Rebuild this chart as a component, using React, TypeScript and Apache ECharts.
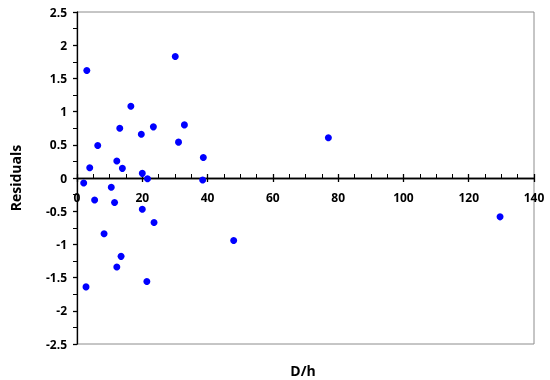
import React, { useEffect, useRef } from "react";
import * as echarts from "echarts";

const dh = [
  3.0, 30.1, 16.5, 13.1, 23.4, 32.9, 19.7, 6.35, 31.1, 38.7,
  3.9, 12.2, 13.9, 20.0, 21.6, 38.5, 2.05, 10.5, 5.4, 11.5,
  20.0, 23.6, 8.3, 48.0, 13.5, 12.2, 21.4, 2.76, 77.0, 129.6,
];
const residuals = [
  1.62, 1.83, 1.08, 0.75, 0.77, 0.8, 0.66, 0.49, 0.54, 0.31,
  0.155, 0.255, 0.145, 0.07, -0.01, -0.03, -0.075, -0.14, -0.33, -0.37,
  -0.47, -0.67, -0.84, -0.94, -1.18, -1.34, -1.56, -1.64, 0.605, -0.585,
];

const FONT = "'Open Sans', 'Noto Sans', sans-serif";

export default function App() {
  const ref = useRef<HTMLDivElement>(null);
  useEffect(() => {
    if (!ref.current) return;
    const chart = echarts.init(ref.current, undefined, { renderer: "svg" });
    const data = dh.map((x, i) => [x, residuals[i]]);
    const mainPos = { left: 77, right: 16, top: 12, bottom: 36 };
    // upper half grid: its bottom edge sits on the y = 0 line of the main grid
    const halfPos = { left: 77, right: 16, top: 12, bottom: 202 };
    chart.setOption({
      animation: false,
      grid: [
        { ...mainPos, show: true, borderColor: "#8c8c8c", borderWidth: 1 },
        { ...halfPos, show: false },
        { ...halfPos, show: false },
      ],
      xAxis: [
        {
          type: "value",
          gridIndex: 0,
          min: 0,
          max: 140,
          interval: 20,
          show: false,
        },
        {
          type: "value",
          gridIndex: 1,
          min: 0,
          max: 140,
          interval: 20,
          position: "bottom",
          axisLine: { show: true, onZero: false, lineStyle: { color: "#000", width: 1.3 } },
          axisTick: { show: true, inside: false, length: 4, lineStyle: { color: "#000", width: 1.3 } },
          axisLabel: { color: "#000", fontFamily: FONT, fontWeight: "bold", fontSize: 12, margin: 13 },
          splitLine: { show: false },
        },
        {
          type: "value",
          gridIndex: 2,
          min: 0,
          max: 140,
          interval: 20,
          position: "bottom",
          axisLine: { show: true, onZero: false, lineStyle: { color: "#000", width: 1.3 } },
          axisTick: { show: true, inside: true, length: 4, lineStyle: { color: "#000", width: 1.3 } },
          minorTick: { show: true, splitNumber: 4, length: 4, lineStyle: { color: "#000", width: 1 } },
          axisLabel: { show: false },
          splitLine: { show: false },
        },
      ],
      yAxis: [
        {
          type: "value",
          gridIndex: 0,
          min: -2.5,
          max: 2.5,
          interval: 0.5,
          name: "Residuals",
          nameLocation: "middle",
          nameGap: 55,
          nameTextStyle: { color: "#000", fontFamily: FONT, fontWeight: "bold", fontSize: 14 },
          axisLine: { show: true, onZero: false, lineStyle: { color: "#000", width: 1.3 } },
          axisTick: { show: true, inside: false, length: 4, lineStyle: { color: "#000", width: 1.3 } },
          minorTick: { show: true, splitNumber: 2, length: 4, lineStyle: { color: "#000", width: 1 } },
          axisLabel: { color: "#000", fontFamily: FONT, fontWeight: "bold", fontSize: 12, margin: 10 },
          splitLine: { show: false },
        },
        { type: "value", gridIndex: 1, min: 0, max: 2.5, show: false, axisLine: { onZero: false } },
        { type: "value", gridIndex: 2, min: 0, max: 2.5, show: false, axisLine: { onZero: false } },
      ],
      graphic: [
        {
          type: "text",
          x: 303,
          y: 370,
          style: {
            text: "D/h",
            fill: "#000",
            font: `bold 14px ${FONT}`,
            textAlign: "center",
            textVerticalAlign: "middle",
          },
        },
      ],
      series: [
        {
          type: "scatter",
          xAxisIndex: 0,
          yAxisIndex: 0,
          data,
          symbol: "circle",
          symbolSize: 7,
          z: 5,
          itemStyle: { color: "#0000ff", opacity: 1 },
        },
      ],
    });
    return () => chart.dispose();
  }, []);
  return (
    <div
      ref={ref}
      style={{ position: "fixed", left: 0, top: 0, width: 550, height: 380 }}
    />
  );
}
